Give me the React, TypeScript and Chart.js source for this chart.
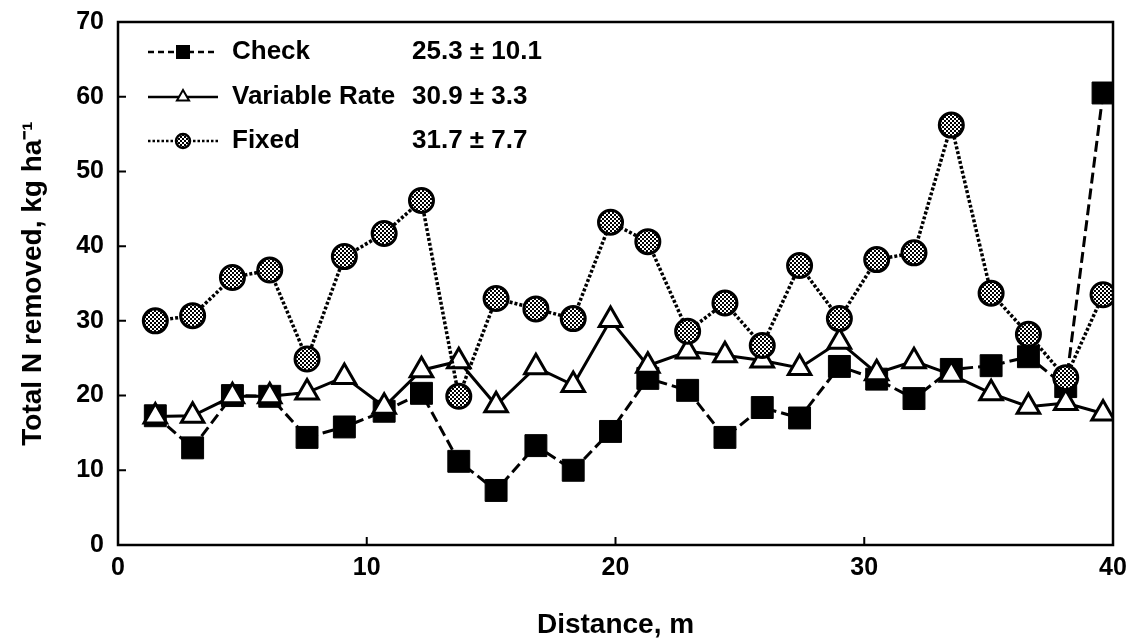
import React, { useEffect, useRef } from "react";
import { Chart, registerables } from "chart.js";

Chart.register(...registerables);

// Distance along the transect (m)
const distance = [1.5, 3.0, 4.6, 6.1, 7.6, 9.1, 10.7, 12.2, 13.7, 15.2, 16.8, 18.3, 19.8, 21.3, 22.9, 24.4, 25.9, 27.4, 29.0, 30.5, 32.0, 33.5, 35.1, 36.6, 38.1, 39.6];

// Total N removed (kg ha-1) per treatment
const checkN = [17.3, 13.0, 20.0, 19.9, 14.4, 15.8, 17.9, 20.3, 11.2, 7.3, 13.3, 10.0, 15.2, 22.3, 20.7, 14.4, 18.4, 17.0, 23.9, 22.2, 19.6, 23.5, 24.0, 25.2, 21.2, 60.5];
const variableN = [17.2, 17.3, 19.9, 19.9, 20.4, 22.5, 18.5, 23.4, 24.6, 18.7, 23.8, 21.4, 30.1, 24.0, 25.9, 25.4, 24.7, 23.7, 27.2, 23.0, 24.6, 22.8, 20.3, 18.5, 19.0, 17.6];
const fixedN = [30.0, 30.7, 35.8, 36.8, 24.9, 38.6, 41.7, 46.1, 19.9, 33.0, 31.6, 30.3, 43.2, 40.6, 28.6, 32.4, 26.7, 37.4, 30.3, 38.2, 39.1, 56.2, 33.7, 28.2, 22.4, 33.5];

// Legend entries: name and mean ± SD
const seriesNames = ["Check", "Variable Rate", "Fixed"];
const seriesStats = ["25.3 \u00B1 10.1", "30.9 \u00B1 3.3", "31.7 \u00B1 7.7"];

const yTicks = [0, 10, 20, 30, 40, 50, 60, 70];
const xTicks = [0, 10, 20, 30, 40];

const FONT = '"Liberation Sans", Arial, Helvetica, sans-serif';

function makeStipple(): CanvasPattern | string {
  const c = document.createElement("canvas");
  c.width = 4;
  c.height = 4;
  const g = c.getContext("2d");
  if (!g) return "#888";
  g.fillStyle = "#ffffff";
  g.fillRect(0, 0, 4, 4);
  g.fillStyle = "#000000";
  g.fillRect(0, 0, 2, 2);
  g.fillRect(2, 2, 2, 2);
  const p = g.createPattern(c, "repeat");
  return p || "#888";
}

export default function App() {
  const canvasRef = useRef<HTMLCanvasElement | null>(null);

  useEffect(() => {
    const canvas = canvasRef.current;
    if (!canvas) return;
    const stipple = makeStipple();

    const pts = (vals: number[]) => distance.map((d, i) => ({ x: d, y: vals[i] }));

    // Frame box, inward tick marks and the in-plot legend
    const framePlugin = {
      id: "frame",
      afterDatasetsDraw(chart: any) {
        const { ctx, chartArea } = chart;
        const { left, right, top, bottom } = chartArea;
        const xs = chart.scales.x;
        const ys = chart.scales.y;
        ctx.save();
        ctx.strokeStyle = "#000";
        ctx.lineWidth = 2.5;
        ctx.setLineDash([]);
        ctx.strokeRect(left, top, right - left, bottom - top);
        ctx.lineWidth = 2;
        ctx.beginPath();
        for (const v of xTicks) {
          const px = xs.getPixelForValue(v);
          ctx.moveTo(px, bottom);
          ctx.lineTo(px, bottom - 8);
        }
        for (const v of yTicks) {
          const py = ys.getPixelForValue(v);
          ctx.moveTo(left, py);
          ctx.lineTo(left + 8, py);
        }
        ctx.stroke();

        // Legend
        const rows = [52, 97, 141];
        const x0 = left + 30;
        const x1 = left + 100;
        const xm = (x0 + x1) / 2;
        const dashes = [[6, 4], [], [2.5, 2]];
        rows.forEach((ry, i) => {
          ctx.lineWidth = 2.5;
          ctx.setLineDash(dashes[i]);
          ctx.beginPath();
          ctx.moveTo(x0, ry);
          ctx.lineTo(x1, ry);
          ctx.stroke();
          ctx.setLineDash([]);
          if (i === 0) {
            ctx.fillStyle = "#000";
            ctx.fillRect(xm - 7, ry - 7, 14, 14);
          } else if (i === 1) {
            const r = 7;
            ctx.fillStyle = "#fff";
            ctx.lineWidth = 2;
            ctx.beginPath();
            ctx.moveTo(xm, ry - r);
            ctx.lineTo(xm + r * 0.866, ry + r * 0.5);
            ctx.lineTo(xm - r * 0.866, ry + r * 0.5);
            ctx.closePath();
            ctx.fill();
            ctx.stroke();
          } else {
            ctx.fillStyle = stipple as any;
            ctx.lineWidth = 2.5;
            ctx.beginPath();
            ctx.arc(xm, ry, 7, 0, Math.PI * 2);
            ctx.fill();
            ctx.stroke();
          }
          ctx.fillStyle = "#000";
          ctx.font = `bold 26px ${FONT}`;
          ctx.textBaseline = "middle";
          ctx.textAlign = "left";
          ctx.fillText(seriesNames[i], left + 114, ry);
          ctx.fillText(seriesStats[i], left + 294, ry);
        });
        ctx.restore();
      },
    };

    const chart = new Chart(canvas, {
      type: "line",
      data: {
        datasets: [
          {
            label: seriesNames[0],
            data: pts(checkN),
            order: 2,
            borderColor: "#000",
            borderWidth: 3,
            borderDash: [11, 5],
            pointStyle: "rect",
            pointRadius: 15.5,
            pointBackgroundColor: "#000",
            pointBorderColor: "#000",
            pointBorderWidth: 1,
            fill: false,
            tension: 0,
          },
          {
            label: seriesNames[1],
            data: pts(variableN),
            order: 1,
            borderColor: "#000",
            borderWidth: 3,
            pointStyle: "triangle",
            pointRadius: 13,
            pointBackgroundColor: "#fff",
            pointBorderColor: "#000",
            pointBorderWidth: 3,
            fill: false,
            tension: 0,
          },
          {
            label: seriesNames[2],
            data: pts(fixedN),
            order: 0,
            borderColor: "#000",
            borderWidth: 3.5,
            borderDash: [3, 2],
            pointStyle: "circle",
            pointRadius: 12,
            pointBackgroundColor: stipple as any,
            pointBorderColor: "#000",
            pointBorderWidth: 3,
            fill: false,
            tension: 0,
          },
        ],
      },
      options: {
        animation: false,
        responsive: true,
        maintainAspectRatio: false,
        layout: { padding: { left: 16, right: 18, top: 22, bottom: 0 } },
        plugins: {
          legend: { display: false },
          tooltip: { enabled: false },
        },
        scales: {
          x: {
            type: "linear",
            min: 0,
            max: 40,
            afterBuildTicks: (s: any) => {
              s.ticks = xTicks.map((v) => ({ value: v }));
            },
            afterFit: (s: any) => {
              s.height = 98;
              s.paddingLeft = 0;
              s.paddingRight = 0;
            },
            grid: { display: false, drawTicks: false },
            border: { display: false },
            ticks: {
              color: "#000",
              padding: 8,
              maxRotation: 0,
              font: { family: FONT, size: 25, weight: "bold" },
            },
            title: {
              display: true,
              text: "Distance, m",
              color: "#000",
              padding: { top: 0, bottom: 1 },
              font: { family: FONT, size: 28, weight: "bold" },
            },
          },
          y: {
            type: "linear",
            min: 0,
            max: 70,
            afterBuildTicks: (s: any) => {
              s.ticks = yTicks.map((v) => ({ value: v }));
            },
            afterFit: (s: any) => {
              s.width = 102;
              s.paddingTop = 0;
              s.paddingBottom = 0;
            },
            grid: { display: false, drawTicks: false },
            border: { display: false },
            ticks: {
              color: "#000",
              padding: 14,
              font: { family: FONT, size: 25, weight: "bold" },
            },
            title: {
              display: true,
              text: "Total N removed, kg ha\u207B\u00B9",
              color: "#000",
              padding: { top: 0, bottom: 0 },
              font: { family: FONT, size: 28, weight: "bold" },
            },
          },
        },
      },
      plugins: [framePlugin],
    });

    return () => chart.destroy();
  }, []);

  return (
    <div style={{ position: "absolute", left: 0, top: 0, width: 1131, height: 643, background: "#fff" }}>
      <canvas ref={canvasRef} />
    </div>
  );
}
